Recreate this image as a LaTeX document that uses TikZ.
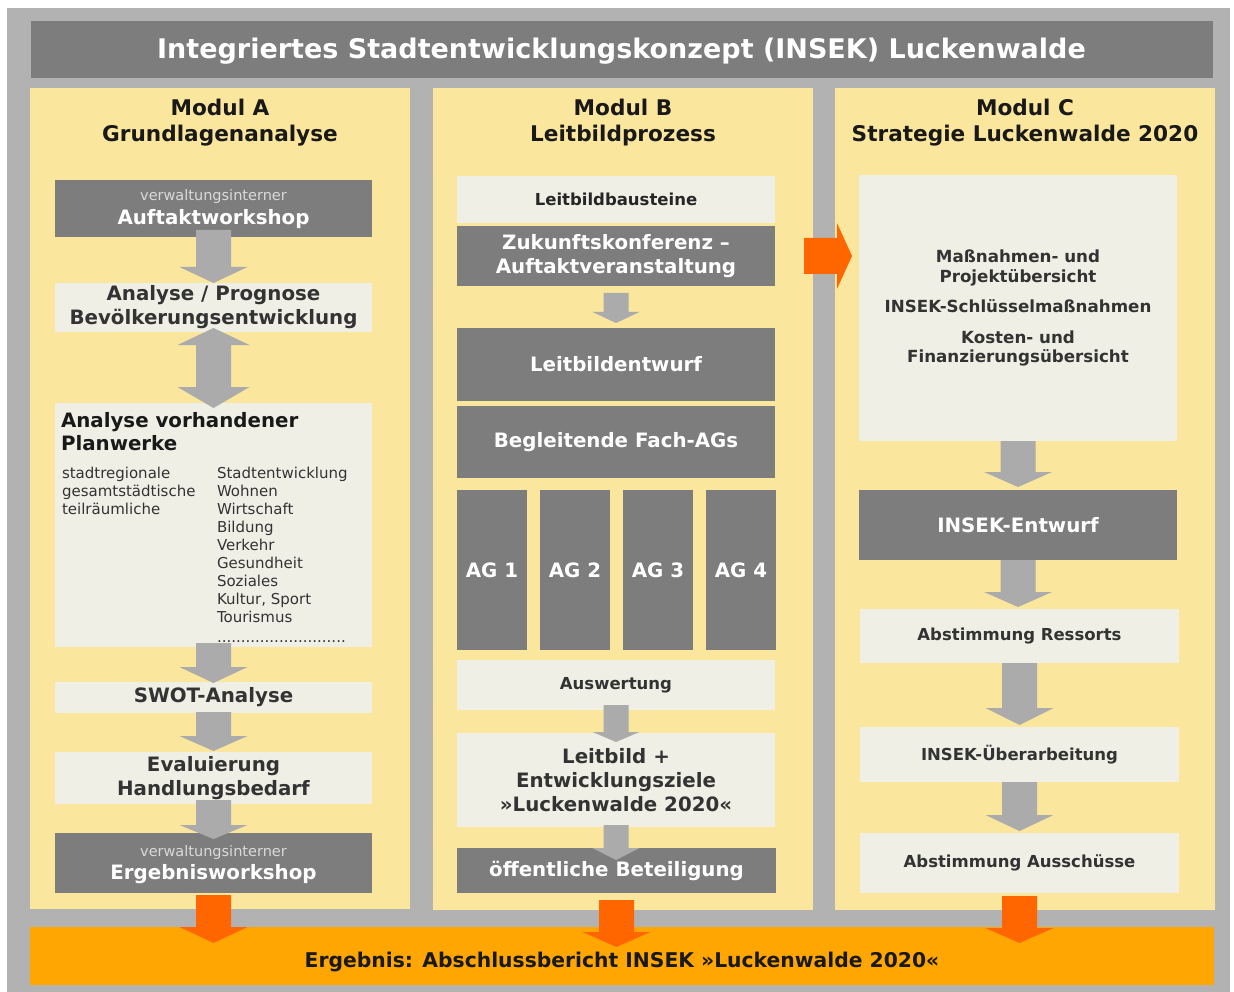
\documentclass[tikz,border=0pt]{standalone}
\usepackage{fontspec}
\setmainfont{DejaVu Sans}
\usetikzlibrary{calc}
\definecolor{framegray}{HTML}{B2B2B2}
\definecolor{darkgray}{HTML}{7D7D7D}
\definecolor{panelyellow}{HTML}{FBE69E}
\definecolor{lightbox}{HTML}{EFEFE6}
\definecolor{arrowgray}{HTML}{ABABAB}
\definecolor{orangearrow}{HTML}{FF6600}
\definecolor{barorange}{HTML}{FFA602}
\definecolor{txt}{HTML}{333333}
\definecolor{subtxt}{HTML}{DADADA}
\newcommand\fsz[2]{\fontsize{#1}{#2}\selectfont}
\tikzset{
  rect/.style={inner sep=0pt, outer sep=0pt, anchor=north west, draw=none},
  darkbox/.style={rect, fill=darkgray, text=white, font=\bfseries\fsz{19.8}{24}, align=center},
  litebox/.style={rect, fill=lightbox, text=txt, font=\bfseries\fsz{19.8}{24}, align=center},
  smallfont/.style={font=\bfseries\fsz{16.5}{19.5}},
  wide/.style={minimum width=317pt},
  heading/.style={font=\bfseries\fsz{21.6}{26}, align=center, text=black!90},
}
% block arrow: color, from, to, start shift (up into source), tip shift (down into target), shaft half width, head half width, head length
\newcommand\blockarrow[8]{%
  \fill[#1] let \p1=(#2.south), \p2=(#3.north) in
    ({\x1-(#6)*1pt},{\y1+(#4)*1pt}) -- ({\x1+(#6)*1pt},{\y1+(#4)*1pt})
    -- ({\x1+(#6)*1pt},{\y2-(#5)*1pt+(#8)*1pt}) -- ({\x1+(#7)*1pt},{\y2-(#5)*1pt+(#8)*1pt})
    -- ({\x1},{\y2-(#5)*1pt}) -- ({\x1-(#7)*1pt},{\y2-(#5)*1pt+(#8)*1pt})
    -- ({\x1-(#6)*1pt},{\y2-(#5)*1pt+(#8)*1pt}) -- cycle;}
\begin{document}
\begin{tikzpicture}[x=1pt,y=-1pt]
\useasboundingbox (0,0) rectangle (1234,992);
\fill[white] (0,0) rectangle (1234,992);
\fill[framegray] (7,8) rectangle (1230,992);
% title
\node[rect, fill=darkgray, minimum width=1182pt, minimum height=57pt] (title) at (31,21) {};
\node[text=white, font=\bfseries\fsz{27}{30}] (titletxt) at (621.5,51) {Integriertes Stadtentwicklungskonzept (INSEK) Luckenwalde};
% panels
\node[rect, fill=panelyellow, minimum width=380pt, minimum height=821pt] (pA) at (30,88) {};
\node[rect, fill=panelyellow, minimum width=380pt, minimum height=822pt] (pB) at (433,88) {};
\node[rect, fill=panelyellow, minimum width=380pt, minimum height=822pt] (pC) at (835,88) {};
\node[heading] (hA) at (220,123) {Modul A\\Grundlagenanalyse};
\node[heading] (hB) at (623,123) {Modul B\\Leitbildprozess};
\node[heading] (hC) at (1025,123) {Modul C\\Strategie Luckenwalde 2020};
% result bar
\node[rect, fill=barorange, minimum width=1184pt, minimum height=58pt] (bar) at (30,927) {};
\coordinate (bartxt) at (622,962);

% ---------- Modul A ----------
\node[darkbox, wide, minimum height=57pt] (auf) at (55,180) {};
\node[font=\fsz{14.5}{16}, text=subtxt] (aufs) at (213.5,197) {verwaltungsinterner};
\node[font=\bfseries\fsz{19.8}{24}, text=white] (auft) at (213.5,219) {Auftaktworkshop};
\node[litebox, wide, minimum height=49pt] (ana) at (55,283) {Analyse / Prognose\\Bevölkerungsentwicklung};
\node[litebox, wide, minimum height=244pt] (plan) at (55,403) {};
\node[rect, font=\bfseries\fsz{19.8}{23}, text=black!90, align=left] (planh) at (61,412) {Analyse vorhandener\\Planwerke};
\node[rect, font=\fsz{15}{18}, text=txt, align=left] (planl) at (62,467) {stadtregionale\\gesamtstädtische\\teilräumliche};
\node[rect, font=\fsz{15}{18}, text=txt, align=left] (planr) at (217,467) {Stadtentwicklung\\Wohnen\\Wirtschaft\\Bildung\\Verkehr\\Gesundheit\\Soziales\\Kultur, Sport\\Tourismus\\[2pt]...........................};
\node[litebox, wide, minimum height=31pt] (swot) at (55,682) {SWOT-Analyse};
\node[litebox, wide, minimum height=52pt] (eval) at (55,752) {Evaluierung\\Handlungsbedarf};
\node[darkbox, wide, minimum height=60pt] (erg) at (55,833) {};

% ---------- Modul B ----------
\node[litebox, smallfont, minimum width=318pt, minimum height=47pt, text=black!85] (bau) at (457,176) {Leitbildbausteine};
\node[darkbox, minimum width=318pt, minimum height=60pt] (zuk) at (457,226) {Zukunftskonferenz –\\Auftaktveranstaltung};
\node[darkbox, minimum width=318pt, minimum height=73pt] (entw) at (457,328) {Leitbildentwurf};
\node[darkbox, minimum width=318pt, minimum height=72pt] (fach) at (457,406) {Begleitende Fach-AGs};
\node[darkbox, minimum width=70pt, minimum height=160pt] (ag1) at (457,490) {AG 1};
\node[darkbox, minimum width=70pt, minimum height=160pt] (ag2) at (540,490) {AG 2};
\node[darkbox, minimum width=70pt, minimum height=160pt] (ag3) at (623,490) {AG 3};
\node[darkbox, minimum width=70pt, minimum height=160pt] (ag4) at (706,490) {AG 4};
\node[litebox, smallfont, minimum width=318pt, minimum height=50pt] (ausw) at (457,660) {Auswertung};
\node[litebox, minimum width=318pt, minimum height=94pt] (lb) at (457,733) {Leitbild +\\Entwicklungsziele\\»Luckenwalde 2020«};
\node[darkbox, minimum width=319pt, minimum height=45pt] (oef) at (457,848) {öffentliche Beteiligung};

% ---------- Modul C ----------
\node[litebox, font=\bfseries\fsz{16.7}{19.5}, minimum width=318pt, minimum height=266pt] (mass) at (859,175) {Maßnahmen- und\\Projektübersicht\\[11pt]INSEK-Schlüsselmaßnahmen\\[11pt]Kosten- und\\Finanzierungsübersicht};
\node[darkbox, minimum width=318pt, minimum height=70pt] (ient) at (859,490) {INSEK-Entwurf};
\node[litebox, smallfont, minimum width=319pt, minimum height=54pt] (ress) at (860,609) {Abstimmung Ressorts};
\node[litebox, smallfont, minimum width=319pt, minimum height=55pt] (ueb) at (860,727) {INSEK-Überarbeitung};
\node[litebox, smallfont, minimum width=319pt, minimum height=60pt] (aus) at (860,833) {Abstimmung Ausschüsse};

% ---------- gray arrows ----------
\blockarrow{arrowgray}{auf}{ana}{7}{0}{17.5}{34}{16}
\fill[arrowgray] let \p1=(ana.south), \p2=(plan.north) in
  ({\x1},{\y1+4pt}) -- ({\x1+36pt},{\y1-13pt}) -- ({\x1+17.5pt},{\y1-13pt}) -- ({\x1+17.5pt},{\y2+16pt})
  -- ({\x1+36pt},{\y2+16pt}) -- ({\x1},{\y2-5pt}) -- ({\x1-36pt},{\y2+16pt}) -- ({\x1-17.5pt},{\y2+16pt})
  -- ({\x1-17.5pt},{\y1-13pt}) -- ({\x1-36pt},{\y1-13pt}) -- cycle;
\blockarrow{arrowgray}{plan}{swot}{4}{1}{17.5}{34}{16}
\blockarrow{arrowgray}{swot}{eval}{1}{-1}{17.5}{34}{15}
\blockarrow{arrowgray}{eval}{erg}{4}{6}{17.5}{34}{14}
\blockarrow{arrowgray}{zuk}{entw}{-7}{-5}{12.5}{23.5}{11}
\blockarrow{arrowgray}{ausw}{lb}{5}{9}{12.5}{23.5}{10}
\blockarrow{arrowgray}{lb}{oef}{2}{12}{12.5}{23.5}{12}
\blockarrow{arrowgray}{mass}{ient}{0}{-3}{17.5}{34}{15}
\blockarrow{arrowgray}{ient}{ress}{0}{-2}{17.5}{34}{15}
\blockarrow{arrowgray}{ress}{ueb}{0}{-2}{17.5}{34}{17}
\blockarrow{arrowgray}{ueb}{aus}{0}{-2}{17.5}{34}{16}

% texts in Ergebnisworkshop (over the arrow tip)
\node[font=\fsz{14.5}{16}, text=subtxt] (ergs) at (213.5,852) {verwaltungsinterner};
\node[font=\bfseries\fsz{19.8}{24}, text=white] (ergt) at (213.5,874) {Ergebnisworkshop};

% ---------- orange arrows ----------
\blockarrow{orangearrow}{erg}{bar}{-2}{16}{17.5}{34}{16}
\blockarrow{orangearrow}{oef}{bar}{-7}{20}{17.5}{34}{15}
\blockarrow{orangearrow}{aus}{bar}{-3}{16}{17.5}{34}{15}
\fill[orangearrow] let \p1=(zuk.east), \p2=(mass.west) in
  ({\x2-55pt},{\y1+18pt}) -- ({\x2-22pt},{\y1+18pt}) -- ({\x2-22pt},{\y1+33pt})
  -- ({\x2-7pt},{\y1}) -- ({\x2-22pt},{\y1-33pt}) -- ({\x2-22pt},{\y1-18pt})
  -- ({\x2-55pt},{\y1-18pt}) -- cycle;
% bar text over arrow tips
\node[font=\bfseries\fsz{20.3}{24}, text=black!90] (bartext) at (bartxt) {Ergebnis: Abschlussbericht INSEK »Luckenwalde 2020«};
\end{tikzpicture}
\end{document}
